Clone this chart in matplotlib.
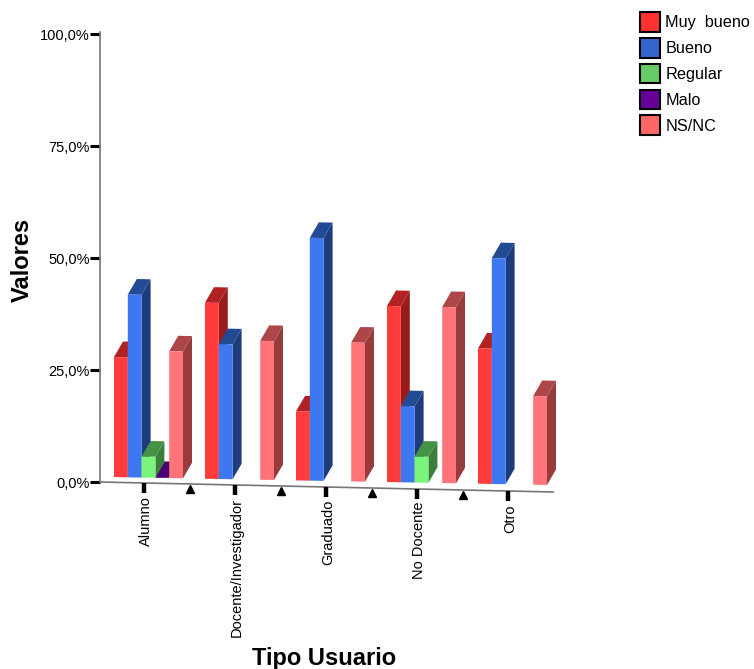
import matplotlib
matplotlib.use('Agg')
import matplotlib.pyplot as plt
from matplotlib.patches import Polygon, Patch
from matplotlib.ticker import FuncFormatter

plt.rcParams['font.family'] = ['Liberation Sans', 'DejaVu Sans']

# Data (percent)
categories = ['Alumno', 'Docente/Investigador', 'Graduado', 'No Docente', 'Otro']
series_names = ['Muy  bueno', 'Bueno', 'Regular', 'Malo', 'NS/NC']
muy_bueno = [26.8, 39.3, 15.4, 39.3, 30.2]
bueno = [40.8, 30.1, 54.2, 17.0, 50.4]
regular = [4.7, 0.0, 0.0, 5.8, 0.0]
malo = [0.2, 0.0, 0.0, 0.0, 0.0]
ns_nc = [28.3, 31.0, 31.0, 39.3, 19.8]
series = [muy_bueno, bueno, regular, malo, ns_nc]

# front, top, side colours for each series, and the legend colours
front = ['#ff3b3b', '#3d78f0', '#7af57a', '#6a0a9a', '#ff7478']
top = ['#b22222', '#234a94', '#459145', '#4a0070', '#ae4548']
side = ['#991c1c', '#1e3c7c', '#3c7f3c', '#3c0060', '#963c3c']
legend_colors = ['#ff3030', '#3366cc', '#66cc66', '#660099', '#ff6666']

W, H = 754, 669
fig = plt.figure(figsize=(W / 100, H / 100), dpi=100)
ax = fig.add_axes([100 / W, (H - 482) / H, 453 / W, 448 / H])

# x unit = one category (91 px), y unit = one percent (4.48 px)
PX_X = 1 / 91
PX_Y = 100 / 448
ax.set_xlim(-44 * PX_X, 409 * PX_X)
ax.set_ylim(0, 100)

bar_w = 13.8 * PX_X
group_start = -30 * PX_X
depth_x = 9 * PX_X
depth_y = 15.5 * PX_Y


def axis_y(x):
    # the floor of the chart runs slightly downhill, 10 px over the whole axis
    xl = ax.get_xlim()
    return -10 * PX_Y * (x - xl[0]) / (xl[1] - xl[0])


def base_y(x):
    return 1.1 - 0.37 * (x - group_start)


# Malo is drawn before Regular so the green side stays on top of it
for s in [0, 1, 3, 2, 4]:
    for i, v in enumerate(series[s]):
        if v == 0:
            continue
        x0 = i + group_start + s * bar_w
        x1 = x0 + bar_w
        b0, b1 = base_y(x0), base_y(x1)
        ax.add_patch(Polygon([(x1, b1), (x1 + depth_x, b1 + depth_y),
                              (x1 + depth_x, b1 + v + depth_y), (x1, b1 + v)],
                             fc=side[s], ec='none', clip_on=False, zorder=3))
        ax.add_patch(Polygon([(x0, b0 + v), (x1, b1 + v),
                              (x1 + depth_x, b1 + v + depth_y), (x0 + depth_x, b0 + v + depth_y)],
                             fc=top[s], ec='none', clip_on=False, zorder=3))
        ax.add_patch(Polygon([(x0, b0), (x1, b1), (x1, b1 + v), (x0, b0 + v)],
                             fc=front[s], ec='none', clip_on=False, zorder=3))

# Axes
for name in ['top', 'right', 'bottom']:
    ax.spines[name].set_visible(False)
ax.spines['left'].set_color('#777777')
ax.spines['left'].set_linewidth(1.2)
ax.spines['left'].set_bounds(0, 100.5)
ax.set_xticks([])
ax.set_yticks([0, 25, 50, 75, 100])
ax.yaxis.set_major_formatter(FuncFormatter(lambda v, p: f'{v:.1f}%'.replace('.', ',')))
ax.tick_params(axis='y', length=7.5, width=2.2, color='black', labelsize=10.5, pad=0)
ax.set_facecolor('none')

xl = ax.get_xlim()
ax.plot(xl, [axis_y(xl[0]), axis_y(xl[1])], color='#777777', lw=1.2, clip_on=False, zorder=2)

for i, name in enumerate(categories):
    y = axis_y(i)
    ax.plot([i, i], [y, y - 10 * PX_Y], color='black', lw=3.2, clip_on=False,
            solid_capstyle='butt', zorder=2)
    ax.text(i + 2 * PX_X, y - 13 * PX_Y, name, rotation=90, ha='center', va='top', fontsize=10.5)
    if i < len(categories) - 1:
        ax.plot(i + 0.5, axis_y(i + 0.5) - 5 * PX_Y, '^', color='black', ms=6, clip_on=False)

fig.text(22 / W, 1 - 260 / H, 'Valores', rotation=90, ha='center', va='center',
         fontsize=17, fontweight='bold')
fig.text(324 / W, 1 - 658 / H, 'Tipo Usuario', ha='center', va='center',
         fontsize=17, fontweight='bold')

handles = [Patch(fc=c, ec='black', lw=1.5) for c in legend_colors]
fig.legend(handles, series_names, loc='upper left', bbox_to_anchor=(640 / W, 1 - 12 / H),
           borderaxespad=0, borderpad=0, frameon=False, fontsize=11.7, handlelength=1.25,
           handleheight=1.5, labelspacing=0.37, handletextpad=0.3)

fig.savefig('out.png', dpi=100)
